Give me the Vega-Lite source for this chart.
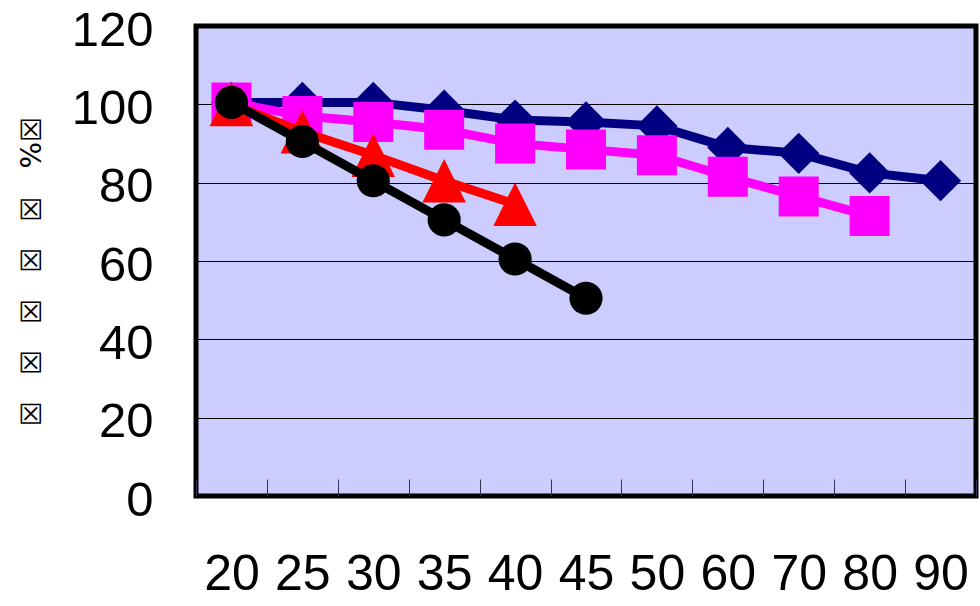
{
  "$schema": "https://vega.github.io/schema/vega-lite/v6.json",
  "width": 780,
  "height": 470,
  "autosize": {"type": "none"},
  "padding": {"left": 196, "top": 26, "right": 4, "bottom": 110},
  "background": "white",
  "config": {
    "view": {"fill": "#CCCCFF", "stroke": "black", "strokeWidth": 5}
  },
  "data": {
    "values": [
      {"s": "navy", "x": "20", "v": 100.5},
      {"s": "navy", "x": "25", "v": 100.5},
      {"s": "navy", "x": "30", "v": 100.5},
      {"s": "navy", "x": "35", "v": 98.5},
      {"s": "navy", "x": "40", "v": 96},
      {"s": "navy", "x": "45", "v": 95.5},
      {"s": "navy", "x": "50", "v": 94.5},
      {"s": "navy", "x": "60", "v": 89},
      {"s": "navy", "x": "70", "v": 87.5},
      {"s": "navy", "x": "80", "v": 82.5},
      {"s": "navy", "x": "90", "v": 80.5},
      {"s": "pink", "x": "20", "v": 100.5},
      {"s": "pink", "x": "25", "v": 97},
      {"s": "pink", "x": "30", "v": 95.5},
      {"s": "pink", "x": "35", "v": 93.5},
      {"s": "pink", "x": "40", "v": 90},
      {"s": "pink", "x": "45", "v": 88.5},
      {"s": "pink", "x": "50", "v": 87},
      {"s": "pink", "x": "60", "v": 81.5},
      {"s": "pink", "x": "70", "v": 76.5},
      {"s": "pink", "x": "80", "v": 71.5},
      {"s": "red", "x": "20", "v": 100},
      {"s": "red", "x": "25", "v": 93},
      {"s": "red", "x": "30", "v": 87},
      {"s": "red", "x": "35", "v": 80.5},
      {"s": "red", "x": "40", "v": 74.5},
      {"s": "black", "x": "20", "v": 100.5},
      {"s": "black", "x": "25", "v": 90.5},
      {"s": "black", "x": "30", "v": 80.5},
      {"s": "black", "x": "35", "v": 70.5},
      {"s": "black", "x": "40", "v": 60.5},
      {"s": "black", "x": "45", "v": 50.5}
    ]
  },
  "encoding": {
    "x": {
      "field": "x",
      "type": "ordinal",
      "sort": null,
      "scale": {
        "type": "band",
        "domain": ["20", "25", "30", "35", "40", "45", "50", "60", "70", "80", "90"],
        "paddingInner": 0,
        "paddingOuter": 0
      },
      "axis": {
        "title": null,
        "domain": false,
        "grid": false,
        "ticks": true,
        "tickBand": "extent",
        "tickSize": -17,
        "tickColor": "#333355",
        "tickWidth": 1,
        "labelAngle": 0,
        "labelFont": "Liberation Sans",
        "labelFontSize": 50,
        "labelColor": "black",
        "labelPadding": 70
      }
    },
    "y": {
      "field": "v",
      "type": "quantitative",
      "scale": {"domain": [0, 120], "nice": false, "zero": true},
      "axis": {
        "values": [0, 20, 40, 60, 80, 100, 120],
        "domain": false,
        "ticks": false,
        "grid": true,
        "gridColor": "black",
        "gridWidth": 1,
        "gridOpacity": 1,
        "labelFont": "Liberation Sans",
        "labelFontSize": 49,
        "labelColor": "black",
        "labelPadding": 43,
        "labelOffset": 4,
        "title": "☒\u2002\u2004\u200a☒\u2002\u2004\u200a☒\u2002\u2004\u200a☒\u2002\u2004\u200a☒\u2003%☒",
        "titleFont": "DejaVu Sans",
        "titleFontSize": 28,
        "titleFontWeight": "normal",
        "titleColor": "black",
        "titlePadding": 25,
        "titleY": 245
      }
    }
  },
  "layer": [
    {"transform": [{"filter": "datum.s === 'navy'"}], "mark": {"type": "line", "color": "#000080", "strokeWidth": 9, "strokeJoin": "round"}},
    {"transform": [{"filter": "datum.s === 'navy'"}], "mark": {"type": "point", "shape": "diamond", "filled": true, "color": "#000080", "size": 1700, "opacity": 1, "strokeWidth": 0}},
    {"transform": [{"filter": "datum.s === 'pink'"}], "mark": {"type": "line", "color": "#FF00FF", "strokeWidth": 9, "strokeJoin": "round"}},
    {"transform": [{"filter": "datum.s === 'pink'"}], "mark": {"type": "point", "shape": "square", "filled": true, "color": "#FF00FF", "size": 1600, "opacity": 1, "strokeWidth": 0}},
    {"transform": [{"filter": "datum.s === 'red'"}], "mark": {"type": "line", "color": "#FF0000", "strokeWidth": 9, "strokeJoin": "round"}},
    {"transform": [{"filter": "datum.s === 'red'"}], "mark": {"type": "point", "shape": "M0,-1L1,1L-1,1Z", "filled": true, "color": "#FF0000", "size": 1900, "opacity": 1, "strokeWidth": 0}},
    {"transform": [{"filter": "datum.s === 'black'"}], "mark": {"type": "line", "color": "#000000", "strokeWidth": 9, "strokeJoin": "round"}},
    {"transform": [{"filter": "datum.s === 'black'"}], "mark": {"type": "point", "shape": "circle", "filled": true, "color": "#000000", "size": 1100, "opacity": 1, "strokeWidth": 0}}
  ]
}
